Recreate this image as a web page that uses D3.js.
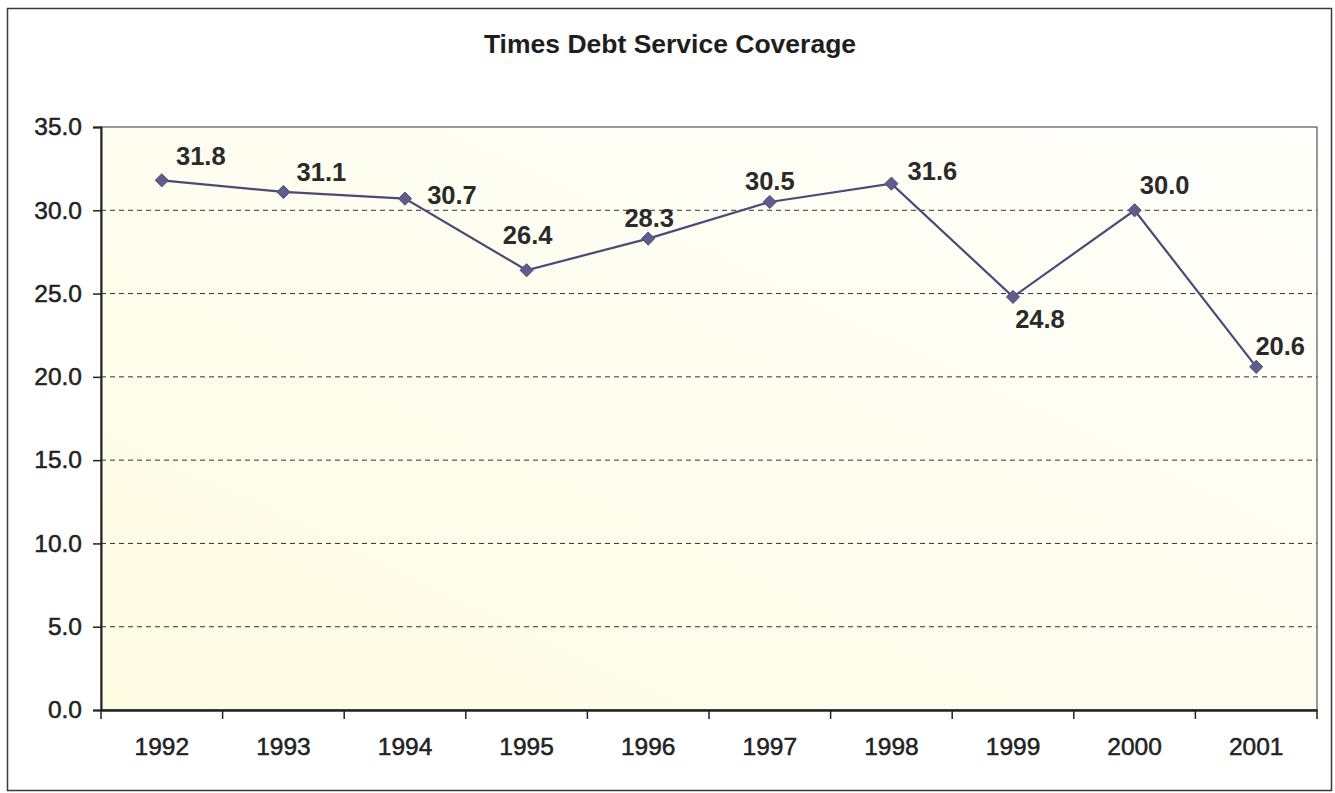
<!DOCTYPE html>
<html>
<head>
<meta charset="utf-8">
<script src="https://cdn.jsdelivr.net/npm/d3@7"></script>
<style>
  html, body { margin: 0; padding: 0; background: #ffffff; }
  svg { display: block; }
  text { font-family: "Liberation Sans", Arial, Helvetica, sans-serif; }
</style>
</head>
<body>
<svg id="chart" width="1335" height="793"></svg>
<script>
// ---- data ----
const years = ["1992", "1993", "1994", "1995", "1996", "1997", "1998", "1999", "2000", "2001"];
const coverage = [31.8, 31.1, 30.7, 26.4, 28.3, 30.5, 31.6, 24.8, 30.0, 20.6];
const yTicks = [0, 5, 10, 15, 20, 25, 30, 35];
const title = "Times Debt Service Coverage";

// label placement (layout only): offsets from point in px
const labelOffsets = [
  [39, -24], [38, -20], [47, -4], [1, -35], [1, -21],
  [0, -21], [41, -13], [27, 22], [30, -25], [24, -21]
];

// ---- layout ----
const W = 1335, H = 793;
const plot = { left: 101, right: 1317, top: 127, bottom: 710 };
const svg = d3.select("#chart");

// outer frame
svg.append("rect")
  .attr("x", 7.5).attr("y", 8.5)
  .attr("width", 1324).attr("height", 782)
  .attr("fill", "#ffffff")
  .attr("stroke", "#3a3a3a").attr("stroke-width", 1.5);

// gradient for plot area
const defs = svg.append("defs");
const grad = defs.append("linearGradient")
  .attr("id", "bg").attr("x1", "0%").attr("y1", "100%").attr("x2", "100%").attr("y2", "0%");
grad.append("stop").attr("offset", "0%").attr("stop-color", "#fdfbe2");
grad.append("stop").attr("offset", "45%").attr("stop-color", "#fefdee");
grad.append("stop").attr("offset", "100%").attr("stop-color", "#fffffb");

// scales
const x = d3.scaleBand().domain(years).range([plot.left, plot.right]).padding(0);
const y = d3.scaleLinear().domain([0, 35]).range([plot.bottom, plot.top]);

// plot background
svg.append("rect")
  .attr("x", plot.left).attr("y", plot.top)
  .attr("width", plot.right - plot.left).attr("height", plot.bottom - plot.top)
  .attr("fill", "url(#bg)")
  .attr("stroke", "#555").attr("stroke-width", 1.2);

// gridlines
svg.append("g")
  .selectAll("line")
  .data(yTicks.filter(t => t > 0 && t < 35))
  .join("line")
  .attr("x1", plot.left).attr("x2", plot.right)
  .attr("y1", d => y(d)).attr("y2", d => y(d))
  .attr("stroke", "#333").attr("stroke-width", 1)
  .attr("stroke-dasharray", "5,4");

// title
svg.append("text")
  .attr("x", 670).attr("y", 44).attr("dy", "0.35em")
  .attr("text-anchor", "middle")
  .attr("font-size", 26.5).attr("font-weight", "bold")
  .attr("fill", "#1e1e1e")
  .text(title);

// y axis
const yAxis = d3.axisLeft(y).tickValues(yTicks).tickFormat(d3.format(".1f")).tickSize(8).tickPadding(11);
const gy = svg.append("g").attr("transform", `translate(${plot.left},0)`).call(yAxis);
gy.select(".domain").attr("stroke", "#222").attr("stroke-width", 2);
gy.selectAll(".tick line").attr("stroke", "#222").attr("stroke-width", 1.5);
gy.selectAll(".tick text")
  .attr("font-size", 24.5).attr("fill", "#222")
  .attr("stroke", "#222").attr("stroke-width", 0.5)
  .attr("font-family", "'Liberation Sans', Arial, sans-serif");

// x axis
const xAxis = d3.axisBottom(x).tickSize(0).tickPadding(28);
const gx = svg.append("g").attr("transform", `translate(0,${plot.bottom})`).call(xAxis);
gx.select(".domain").attr("stroke", "#222").attr("stroke-width", 2.5);
gx.selectAll(".tick text")
  .attr("font-size", 24.5).attr("fill", "#222")
  .attr("stroke", "#222").attr("stroke-width", 0.5)
  .attr("font-family", "'Liberation Sans', Arial, sans-serif");
// category boundary ticks
const bounds = years.map(d => x(d)).concat([x(years[years.length - 1]) + x.bandwidth()]);
gx.selectAll(".bound")
  .data(bounds)
  .join("line")
  .attr("class", "bound")
  .attr("x1", d => d).attr("x2", d => d)
  .attr("y1", 0).attr("y2", 9)
  .attr("stroke", "#222").attr("stroke-width", 1.5);

// line
const cx = (d, i) => x(years[i]) + x.bandwidth() / 2;
const line = d3.line().x((d, i) => cx(d, i)).y(d => y(d));
svg.append("path")
  .datum(coverage)
  .attr("d", line)
  .attr("fill", "none")
  .attr("stroke", "#4a4a78")
  .attr("stroke-width", 2.2);

// diamond markers
svg.append("g")
  .selectAll("path")
  .data(coverage)
  .join("path")
  .attr("transform", (d, i) => `translate(${cx(d, i)},${y(d)})`)
  .attr("d", d3.symbol().type(d3.symbolDiamond2).size(110))
  .attr("fill", "#5e5e8e")
  .attr("stroke", "#4a4a78")
  .attr("stroke-width", 1);

// data labels
svg.append("g")
  .selectAll("text")
  .data(coverage)
  .join("text")
  .attr("x", (d, i) => cx(d, i) + labelOffsets[i][0])
  .attr("y", (d, i) => y(d) + labelOffsets[i][1])
  .attr("dy", "0.35em")
  .attr("text-anchor", "middle")
  .attr("font-size", 25.5).attr("font-weight", "bold")
  .attr("fill", "#2a2a2a")
  .text(d => d3.format(".1f")(d));
</script>
</body>
</html>
